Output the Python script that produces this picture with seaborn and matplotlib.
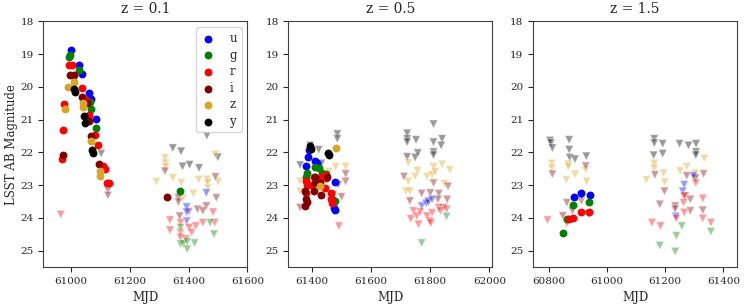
import pandas as pd
import numpy as np
import matplotlib
matplotlib.use("Agg")
import matplotlib.pyplot as plt
import seaborn as sns

bands = ['u', 'g', 'r', 'i', 'z', 'y']
band_colors = {'u': 'blue', 'g': 'green', 'r': 'red', 'i': 'maroon', 'z': 'goldenrod', 'y': 'black'}
titles = ['z = 0.1', 'z = 0.5', 'z = 1.5']

# z = 0.1 detections
z01_det_band = list('uuuuuu' 'ggggggg' 'rrrrrrrrrrrrrr' 'iiiiiiiii' 'zzzzzzzz' 'yyyyyy')
z01_det_mjd = [60999, 61025, 61036, 61060, 61068, 61086,
               60993, 60997, 61025, 61064, 61068, 61086, 61372,
               60993, 61002, 61036, 60976, 60973, 60970, 61049, 61061, 61081, 61091, 61108, 61115, 61123, 61128,
               60996, 61008, 61037, 61055, 61059, 61069, 60972, 61096, 61327,
               60988, 61008, 60979, 61040, 61040, 61069, 61098, 61098,
               61010, 61014, 61043, 61047, 61070, 61075]
z01_det_mag = [18.89, 19.34, 19.61, 20.2, 20.37, 20.99,
               19.08, 19.04, 19.49, 20.45, 20.67, 21.27, 23.17,
               19.34, 19.34, 20.04, 20.53, 21.31, 22.22, 20.4, 20.86, 21.47, 21.79, 22.43, 22.5, 22.95, 22.95,
               19.64, 19.64, 20.32, 20.5, 21.03, 21.5, 22.08, 22.36, 23.36,
               20.0, 19.84, 20.67, 20.62, 20.5, 21.67, 22.58, 22.73,
               20.07, 20.15, 20.88, 21.11, 21.94, 22.02]

# z = 0.1 upper limits
z01_lim_band = list('y' * 8 + 'z' * 14 + 'i' * 12 + 'u' * 4 + 'r' * 13 + 'g' * 8)
z01_lim_mjd = [61102, 61346, 61374, 61462, 61379, 61403, 61435, 61499,
               61319, 61321, 61321, 61290, 61346, 61375, 61434, 61463, 61465, 61491, 61500, 61416, 61381, 61465,
               61125, 61125, 61319, 61365, 61365, 61460, 61491, 61494, 61430, 61448, 61369, 61401,
               61460, 61393, 61393, 61393,
               60964, 61336, 61336, 61372, 61372, 61372, 61401, 61424, 61448, 61483, 61488, 61390, 61410,
               61372, 61372, 61381, 61395, 61420, 61395, 61473, 61486]
z01_lim_mag = [22.04, 21.87, 21.97, 21.49, 22.43, 22.38, 22.48, 22.15,
               22.17, 22.33, 22.45, 22.9, 22.78, 22.93, 22.83, 22.83, 22.93, 22.07, 22.9, 23.26, 23.4, 23.1,
               23.16, 23.32, 22.58, 23.39, 23.52, 23.64, 22.75, 23.39, 23.74, 23.79, 23.95, 23.81,
               23.24, 23.67, 23.83, 24.1,
               23.9, 24.07, 24.38, 24.15, 24.45, 24.6, 24.3, 24.25, 24.15, 23.83, 24.15, 24.65, 24.45,
               24.3, 24.8, 24.8, 24.73, 24.77, 24.96, 24.15, 24.5]

# z = 0.5 detections
z05_det_band = list('u' * 8 + 'g' * 8 + 'r' * 13 + 'i' * 10 + 'z' * 2 + 'y' * 4)
z05_det_mjd = [61389, 61386, 61381, 61411, 61417, 61478, 61474, 61478,
               61383, 61379, 61411, 61423, 61434, 61446, 61478, 61469,
               61381, 61383, 61379, 61406, 61423, 61434, 61443, 61448, 61463, 61466, 61469, 61443, 61398,
               61377, 61379, 61383, 61375, 61406, 61411, 61432, 61429, 61451, 61409,
               61482, 61429,
               61394, 61398, 61455, 61457]
z05_det_mag = [21.94, 22.14, 22.42, 22.26, 22.34, 22.92, 23.69, 23.76,
               22.64, 22.74, 22.44, 22.49, 22.64, 22.66, 23.49, 23.44,
               22.89, 22.99, 23.24, 22.74, 22.84, 22.74, 22.69, 22.79, 23.24, 23.44, 23.54, 23.09, 23.0,
               23.19, 23.44, 23.52, 23.64, 23.19, 22.94, 23.29, 22.94, 22.74, 22.76,
               21.88, 23.04,
               21.82, 21.89, 22.02, 22.09]

# z = 0.5 upper limits
z05_lim_band = list('y' * 19 + 'z' * 18 + 'i' * 16 + 'u' * 5 + 'r' * 13 + 'g' * 2)
z05_lim_mjd = [61486, 61486, 61394, 61423, 61360, 61432, 61722, 61722, 61722, 61752, 61722, 61749, 61758,
               61811, 61811, 61811, 61811, 61840, 61837,
               61480, 61514, 61360, 61360, 61457, 61726, 61757, 61789, 61806, 61811, 61817, 61840, 61866,
               61848, 61749, 61718, 61731, 61726,
               61514, 61514, 61500, 61489, 61360, 61711, 61731, 61771, 61811, 61829, 61860, 61857, 61826,
               61846, 61800, 61794,
               61472, 61771, 61794, 61806, 61786,
               61491, 61743, 61734, 61754, 61766, 61760, 61789, 61798, 61802, 61806, 61829, 61834, 61855,
               61855, 61771]
z05_lim_mag = [21.44, 21.59, 21.79, 21.92, 22.39, 22.34, 21.42, 21.59, 21.69, 21.62, 22.14, 22.16, 22.02,
               21.14, 21.69, 21.99, 22.09, 21.59, 21.79,
               22.44, 22.44, 22.89, 23.19, 22.59, 22.32, 22.56, 22.74, 22.69, 22.44, 22.59, 22.37, 22.54,
               22.96, 22.74, 23.19, 23.19, 22.89,
               22.66, 22.89, 23.36, 22.99, 23.69, 22.74, 23.49, 23.26, 22.94, 23.26, 23.04, 23.44, 23.44,
               23.69, 23.24, 23.49,
               23.29, 23.64, 23.52, 23.44, 23.56,
               24.25, 23.79, 24.03, 23.95, 23.82, 24.2, 23.95, 24.1, 24.16, 23.85, 23.69, 23.79, 23.74,
               23.96, 24.77]

# z = 1.5 detections
z15_det_band = list('uuu' 'gggg' 'rrrr')
z15_det_mjd = [60886, 60909, 60941, 60883, 60937, 60861, 60849, 60883, 60909, 60937, 60870]
z15_det_mag = [23.36, 23.24, 23.29, 23.62, 23.51, 24.05, 24.47, 24.0, 23.82, 23.82, 24.05]

# z = 1.5 upper limits
z15_lim_band = list('y' * 18 + 'z' * 18 + 'i' * 20 + 'u' * 4 + 'r' * 12 + 'g' * 5)
z15_lim_mjd = [60803, 60806, 60811, 60869, 60869, 60871, 60889, 60928, 61162, 61162, 61191, 61160, 61191,
               61249, 61280, 61306, 61306, 61305,
               60809, 60809, 60866, 60866, 60926, 60889, 60859, 60929, 61135, 61162, 61162, 61194, 61198,
               61251, 61274, 61303, 61306, 61334,
               60811, 60926, 60861, 60880, 60911, 60911, 60937, 60847, 61164, 61197, 61181, 61234, 61234,
               61269, 61286, 61274, 61303, 61332, 61286, 61329,
               61265, 61260, 61297, 61236,
               60794, 60861, 61154, 61183, 61265, 61263, 61238, 61265, 61329, 61329, 61357, 61305,
               61257, 61238, 61357, 61181, 61234]
z15_lim_mag = [21.64, 21.72, 21.87, 21.62, 21.92, 22.16, 22.21, 22.12, 21.59, 21.72, 21.74, 22.09, 22.04,
               21.74, 21.79, 21.74, 21.99, 22.09,
               22.34, 22.49, 22.36, 22.44, 22.54, 22.67, 22.84, 22.89, 22.84, 22.34, 22.49, 22.64, 22.91,
               22.57, 22.44, 22.64, 22.79, 22.19,
               22.67, 22.42, 23.54, 23.79, 23.49, 23.34, 23.89, 23.94, 22.69, 23.19, 23.59, 23.64, 23.74,
               23.34, 23.44, 22.72, 22.79, 22.66, 23.79, 23.77,
               22.99, 23.19, 22.72, 23.96,
               24.07, 24.17, 24.15, 24.25, 23.34, 23.54, 24.02, 23.84, 23.41, 24.02, 24.15, 22.94,
               24.25, 24.55, 24.42, 24.85, 25.03]

xlims = [(60905, 61600), (61320, 62010), (60745, 61448)]

sns.set_style('ticks')
plt.rcParams['font.family'] = ['DejaVu Serif']
plt.rcParams['xtick.labelsize'] = 7.5
plt.rcParams['ytick.labelsize'] = 7.5
plt.rcParams['xtick.major.size'] = 3.5
plt.rcParams['ytick.major.size'] = 3.5
plt.rcParams['axes.edgecolor'] = '0.25'

panels = [
    (z01_det_band, z01_det_mjd, z01_det_mag, z01_lim_band, z01_lim_mjd, z01_lim_mag),
    (z05_det_band, z05_det_mjd, z05_det_mag, z05_lim_band, z05_lim_mjd, z05_lim_mag),
    (z15_det_band, z15_det_mjd, z15_det_mag, z15_lim_band, z15_lim_mjd, z15_lim_mag),
]

fig, axes = plt.subplots(1, 3, figsize=(7.47, 3.05), dpi=100)
fig.subplots_adjust(left=0.058, right=0.987, top=0.93, bottom=0.125, wspace=0.2)

for k, ax in enumerate(axes):
    db, dm, dg, lb, lm, lg = panels[k]
    lim = pd.DataFrame({'band': lb, 'mjd': lm, 'mag': lg})
    det = pd.DataFrame({'band': db, 'mjd': dm, 'mag': dg})
    sns.scatterplot(data=lim, x='mjd', y='mag', hue='band', hue_order=bands, palette=band_colors,
                    marker='v', s=36, alpha=0.4, linewidth=0.8, legend=False, ax=ax)
    for b in bands:
        sub = det[det['band'] == b]
        sns.scatterplot(data=sub, x='mjd', y='mag', color=band_colors[b], marker='o', s=32,
                        linewidth=0, label=b if k == 0 else None, ax=ax)
    ax.set_xlim(*xlims[k])
    ax.set_ylim(25.5, 18)
    ax.set_yticks(range(18, 26))
    ax.set_title(titles[k], fontsize=10)
    ax.set_xlabel('MJD', fontsize=8.5)
    ax.set_ylabel('LSST AB Magnitude' if k == 0 else '', fontsize=8.5, labelpad=1.5)
    if k == 0:
        ax.legend(loc='upper right', fontsize=8.5, handletextpad=1.2, borderpad=0.4,
                  labelspacing=0.3, handlelength=1.2)
    else:
        leg = ax.get_legend()
        if leg is not None:
            leg.remove()

plt.savefig('out.png', dpi=100)
